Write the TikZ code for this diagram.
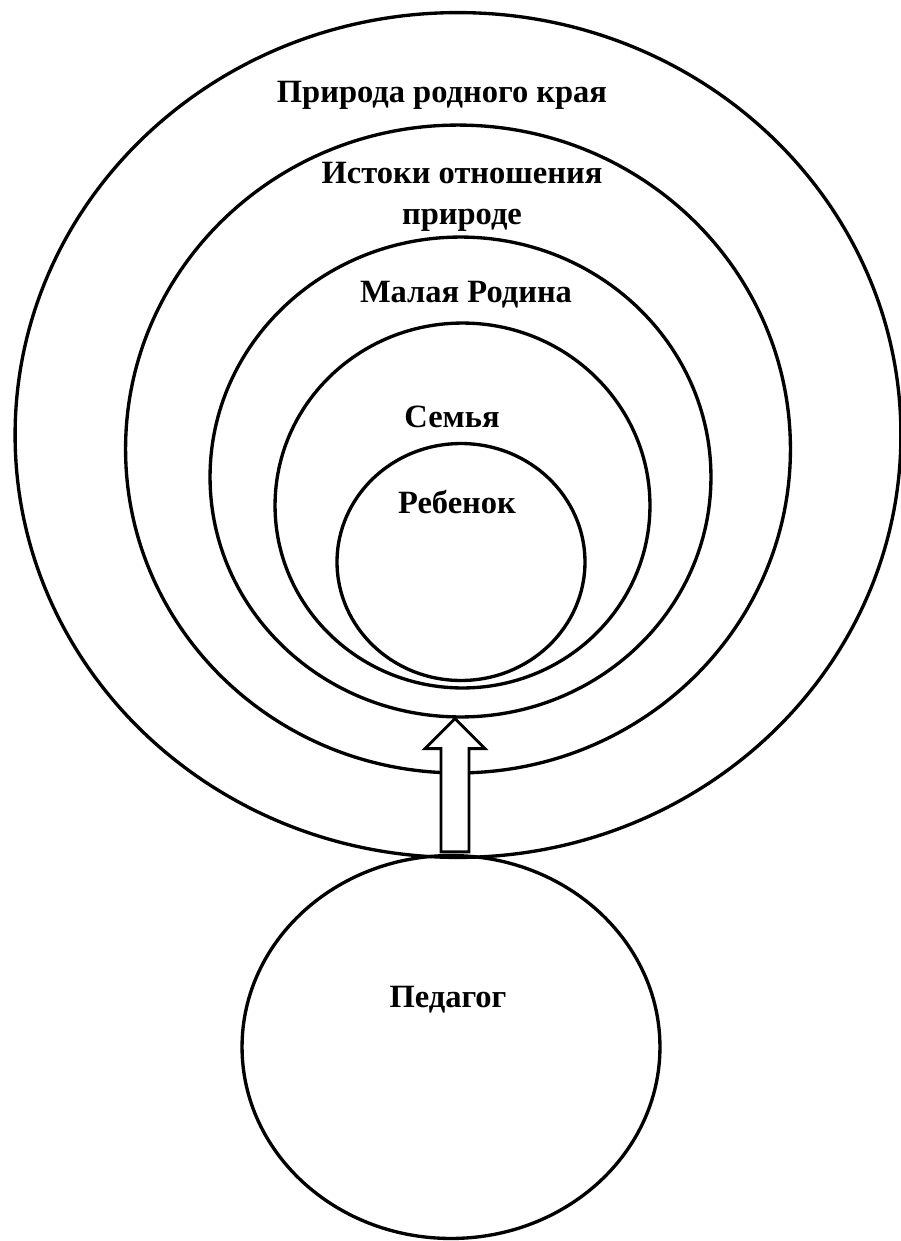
\documentclass[tikz,border=0pt]{standalone}
\usepackage{fontspec}
\setmainfont{Liberation Serif}
\newfontfamily\lblfont{Liberation Serif Bold}
\usetikzlibrary{shapes.geometric,calc}

\begin{document}
\begin{tikzpicture}[x=0.02cm, y=-0.02cm,
    ring/.style={draw, ellipse, line width=1.9pt, inner sep=0pt},
    lbl/.style={font=\lblfont\fontsize{18.5}{23}\selectfont, align=center},
    blockarrow/.style={draw, fill=white, line width=1.7pt, line join=miter}]

\useasboundingbox (0,0) rectangle (900,1241);

% nested rings
\node[ring, minimum width=17.72cm, minimum height=16.9cm]  (krai)    at (458,435) {};
\node[ring, minimum width=13.3cm,  minimum height=12.96cm] (istoki)  at (458,449) {};
\node[ring, minimum width=10.02cm, minimum height=9.6cm]   (malaya)  at (460.5,477) {};
\node[ring, minimum width=7.5cm,   minimum height=7.3cm]   (semya)   at (462.5,505.5) {};
\node[ring, minimum width=4.96cm,  minimum height=4.74cm]  (rebenok) at (461,562) {};

\node[ring, minimum width=8.36cm, minimum height=7.66cm] (ped) at (451,1047) {};

% labels
\node[lbl] (tkrai)    at (442,95)  {Природа родного края};
\node[lbl] (tistoki)  at (462,197) {Истоки отношения\\природе};
\node[lbl] (tmalaya)  at (466,295) {Малая Родина};
\node[lbl] (tsemya)   at (452,417) {Семья};
\node[lbl] (trebenok) at (457,502) {Ребенок};
\node[lbl] (tped)     at (448,1000) {Педагог};

% block arrow
\path (ped.north) ++(4,0) coordinate (foot);
\coordinate (tip) at (malaya.south -| foot);
\draw[blockarrow] ($(foot)+(-14,-2)$) -- ($(tip)+(-14,30)$) -- ($(tip)+(-30,30)$)
    -- (tip) -- ($(tip)+(30,30)$) -- ($(tip)+(14,30)$) -- ($(foot)+(14,-2)$) -- cycle;

\end{tikzpicture}
\end{document}
